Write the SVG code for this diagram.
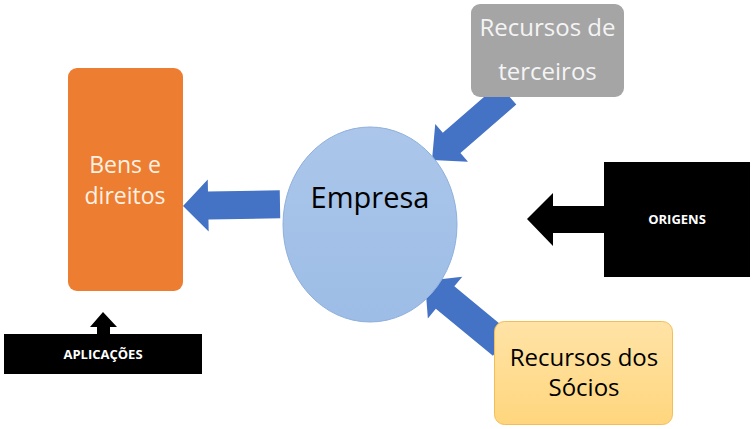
<svg xmlns="http://www.w3.org/2000/svg" width="753" height="429" viewBox="0 0 753 429">
<defs>
<linearGradient id="gCircle" x1="0" y1="0" x2="0" y2="1"><stop offset="0" stop-color="#abc6ea"/><stop offset="1" stop-color="#9dbde6"/></linearGradient>
<linearGradient id="gSocios" x1="0" y1="0" x2="0" y2="1"><stop offset="0" stop-color="#ffe3a6"/><stop offset="1" stop-color="#ffd67e"/></linearGradient>
<path id="arrowShape" d="M0,0 L26,-26 L26,-14 L100,-14 L100,14 L26,14 L26,26 Z"/>
</defs>
<style>
.t{font-family:"Open Sans","Noto Sans","DejaVu Sans",sans-serif;text-anchor:middle}
.lbl{font-size:23px}
.lbl2{font-size:24px}
.b{font-weight:bold;font-size:13px;fill:#ffffff}
.blue{fill:#4472c4}
</style>
<rect width="753" height="429" fill="#ffffff"/>
<g id="connectors">
<g class="blue">
<use href="#arrowShape" transform="translate(183,206) rotate(-1) scale(0.97,1)"/>
<use href="#arrowShape" transform="translate(432,160) rotate(-41) scale(1,0.96)"/>
<use href="#arrowShape" transform="translate(425,281) rotate(39.5) scale(1,1.04)"/>
</g>
<polygon points="527,219 553,193 553,206 604,206 604,233 553,233 553,246" fill="#000000"/>
<polygon points="103,312 117,327 110,327 110,334 97,334 97,327 90,327" fill="#000000"/>
</g>
<g id="bens">
<rect x="68" y="68" width="115" height="223" rx="9" fill="#ed7d31"/>
<text class="t lbl" x="125" y="173" fill="#fdf1e4">Bens e</text>
<text class="t lbl" x="125" y="204" fill="#fdf1e4">direitos</text>
</g>
<g id="empresa">
<ellipse cx="370" cy="224.5" rx="87" ry="97.5" fill="url(#gCircle)" stroke="#8fb0dc" stroke-width="1"/>
<text class="t" x="370" y="208" font-size="29" fill="#000000">Empresa</text>
</g>
<g id="terceiros">
<rect x="471" y="4" width="153" height="93" rx="9" fill="#a5a5a5"/>
<text class="t lbl2" x="547.5" y="36" fill="#f4f4f4">Recursos de</text>
<text class="t lbl2" x="547.5" y="80" fill="#f4f4f4">terceiros</text>
</g>
<g id="socios">
<rect x="494.5" y="321.5" width="178" height="103" rx="10" fill="url(#gSocios)" stroke="#f4bd55" stroke-width="1"/>
<text class="t lbl2" x="584" y="366" fill="#000000">Recursos dos</text>
<text class="t lbl2" x="584" y="396" fill="#000000">Sócios</text>
</g>
<g id="origens">
<rect x="604" y="162" width="146" height="115" fill="#000000"/>
<text class="t b" x="677" y="224">ORIGENS</text>
</g>
<g id="aplicacoes">
<rect x="4" y="334" width="198" height="40" fill="#000000"/>
<text class="t b" x="103" y="359">APLICAÇÕES</text>
</g>
</svg>
